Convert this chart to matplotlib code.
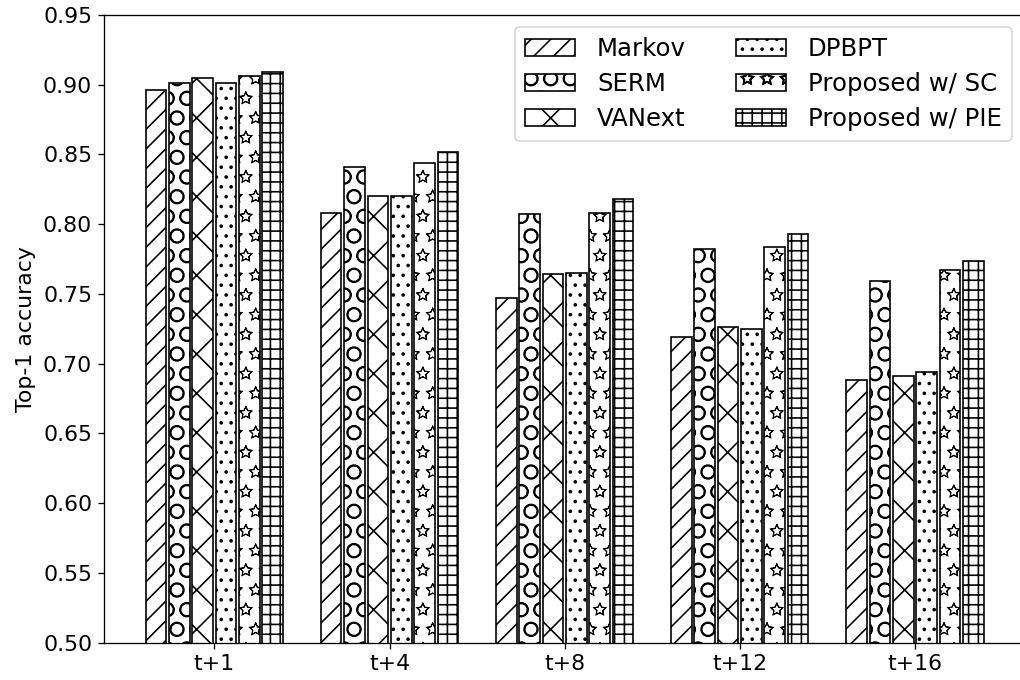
import matplotlib
matplotlib.use("Agg")
import matplotlib.pyplot as plt
import matplotlib.hatch as mhatch
import numpy as np

categories = ["t+1", "t+4", "t+8", "t+12", "t+16"]
methods = ["Markov", "SERM", "VANext", "DPBPT", "Proposed w/ SC", "Proposed w/ PIE"]
markov = [0.896, 0.808, 0.747, 0.719, 0.688]
serm = [0.901, 0.841, 0.807, 0.782, 0.759]
vanext = [0.905, 0.820, 0.764, 0.726, 0.691]
dpbpt = [0.901, 0.820, 0.765, 0.725, 0.694]
prop_sc = [0.906, 0.844, 0.808, 0.784, 0.767]
prop_pie = [0.909, 0.852, 0.818, 0.793, 0.774]
hatches = ["//", "O", "x", "..", "*", "++"]

series = [markov, serm, vanext, dpbpt, prop_sc, prop_pie]

# hollow stars like the reference
mhatch.Stars.filled = False

DPI = 118
W, H = 1020, 680
FS = 13.4
LFS = 14.9

fig = plt.figure(figsize=(W / DPI, H / DPI), dpi=DPI)
ax = fig.add_axes([103.7 / W, 1 - 642.7 / H, (1025.6 - 103.7) / W, (642.7 - 15) / H])

x = np.arange(len(categories))
step = 0.1333
width = 0.118
for i, (vals, name, h) in enumerate(zip(series, methods, hatches)):
    hlw = 0.6 if h == "*" else 1.0
    with plt.rc_context({"hatch.linewidth": hlw}):
        bars = ax.bar(x + (i - 2.5) * step, vals, width, label=name, color="white",
                      edgecolor="black", hatch=h, linewidth=1.0)
        for b in bars:
            if hasattr(b, "set_hatch_linewidth"):
                b.set_hatch_linewidth(hlw)

ax.set_ylim(0.5, 0.95)
ax.set_xlim(-0.632, 4.632)
ax.set_xticks(x)
ax.set_xticklabels(categories, fontsize=FS)
yt = np.arange(0.50, 0.951, 0.05)
ax.set_yticks(yt)
ax.set_yticklabels([f"{v:.2f}" for v in yt], fontsize=FS)
ax.set_ylabel("Top-1 accuracy", fontsize=FS)

ax.legend(ncol=2, fontsize=LFS, loc="upper right",
          bbox_to_anchor=(1011.7 / W, 1 - 27.3 / H),
          bbox_transform=fig.transFigure, borderaxespad=0,
          handlelength=2.05, handletextpad=0.9, columnspacing=2.05,
          labelspacing=0.45, borderpad=0.4)

fig.savefig("out.png", dpi=DPI)
